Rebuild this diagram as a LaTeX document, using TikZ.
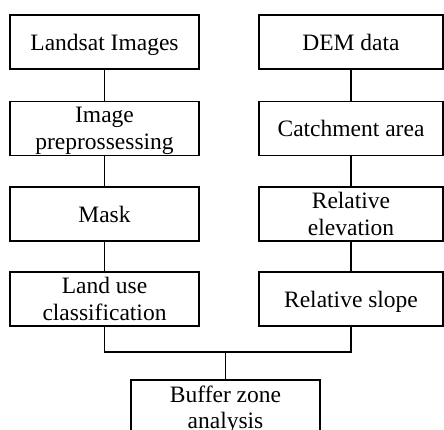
\documentclass[tikz,border=0pt]{standalone}
\usepackage{fontspec}
\setmainfont{Liberation Serif}
\begin{document}
\begin{tikzpicture}[x=1pt,y=1pt,
  boxl/.style={draw,line width=1.4pt,rectangle,inner sep=0pt,minimum width=189pt,minimum height=54pt,align=center,text depth=0pt,font=\fontsize{23.5}{26.5}\selectfont},
  boxr/.style={boxl,minimum width=184pt},
  conn/.style={line width=1.4pt}]
\useasboundingbox (0,0) rectangle (444,-430);
\node[boxl] (l1) at (104.5,-42) {Landsat Images};
\node[boxl] (l2) at (104.5,-128.3) {Image\\preprossessing};
\node[boxl] (l3) at (104.5,-214) {Mask};
\node[boxl] (l4) at (104.5,-299) {Land use\\classification};
\node[boxr] (r1) at (351,-42) {DEM data};
\node[boxr] (r2) at (351,-128.3) {Catchment area};
\node[boxr] (r3) at (351,-214) {Relative\\elevation};
\node[boxr] (r4) at (351,-299) {Relative slope};
\node[boxl] (b) at (225.5,-407) {Buffer zone\\analysis};
\coordinate (j) at (225.5,-352);
\draw[conn] (l1) -- (l2);
\draw[conn] (l2) -- (l3);
\draw[conn] (l3) -- (l4);
\draw[conn] (r1) -- (r2);
\draw[conn] (r2) -- (r3);
\draw[conn] (r3) -- (r4);
\draw[conn] (l4.south) |- (j) -| (r4.south);
\draw[conn] (j) -- (b.north);
\end{tikzpicture}
\end{document}
